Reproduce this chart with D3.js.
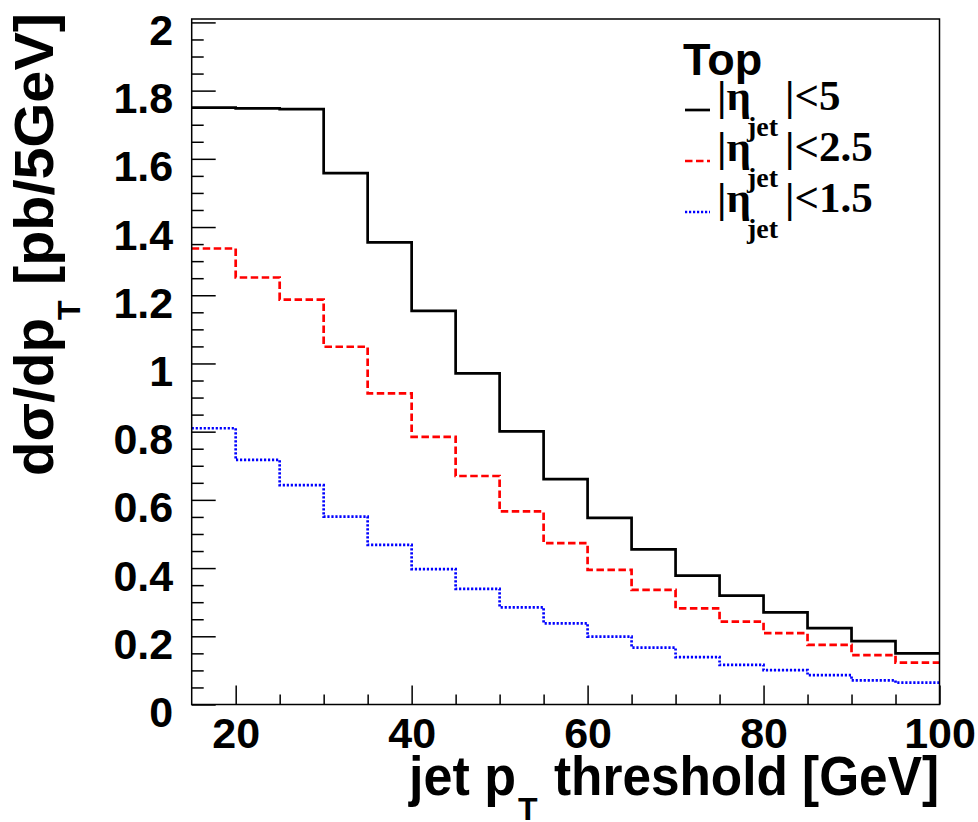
<!DOCTYPE html>
<html>
<head>
<meta charset="utf-8">
<script src="https://cdn.jsdelivr.net/npm/d3@7"></script>
<style>
  html, body { margin: 0; padding: 0; background: #fff; }
  svg { display: block; }
</style>
</head>
<body>
<script>
// ---- data ----
const binLowEdges = [15, 20, 25, 30, 35, 40, 45, 50, 55, 60, 65, 70, 75, 80, 85, 90, 95];
const binHighEdge = 100;
const etaLt5   = [1.750, 1.748, 1.746, 1.558, 1.355, 1.154, 0.971, 0.801, 0.661, 0.547, 0.455, 0.378, 0.319, 0.270, 0.224, 0.186, 0.150];
const etaLt2p5 = [1.337, 1.252, 1.187, 1.049, 0.912, 0.785, 0.670, 0.566, 0.473, 0.395, 0.336, 0.282, 0.243, 0.209, 0.175, 0.145, 0.123];
const etaLt1p5 = [0.810, 0.717, 0.643, 0.551, 0.468, 0.397, 0.339, 0.285, 0.238, 0.199, 0.167, 0.139, 0.116, 0.101, 0.086, 0.071, 0.064];
const xMajorTicks = [20, 40, 60, 80, 100];
const xMinorTicks = [25, 30, 35, 45, 50, 55, 65, 70, 75, 85, 90, 95];
const yMajorTicks = [0, 0.2, 0.4, 0.6, 0.8, 1, 1.2, 1.4, 1.6, 1.8, 2];
const yMinorTicks = d3.range(1, 40).map(i => +(i * 0.05).toFixed(2)).filter(v => Math.abs(v * 5 - Math.round(v * 5)) > 1e-6);
const legendTitle = "Top";
const legendLabels = ["<5", "<2.5", "<1.5"];

const W = 978, H = 822;
const svg = d3.select("body").append("svg").attr("width", W).attr("height", H);

const x = d3.scaleLinear().domain([15, 100]).range([191.7, 939.5]);
const y = d3.scaleLinear().domain([0, 2.01]).range([704.5, 19]);

const sans = "'Liberation Sans', Arial, Helvetica, sans-serif";
const serif = "'Liberation Serif', 'Times New Roman', serif";

// ---- histograms ----
const series = [
  { vals: etaLt5,   color: "#000000", dash: null },
  { vals: etaLt2p5, color: "#ff0000", dash: "7.5,3.5" },
  { vals: etaLt1p5, color: "#0000ff", dash: "2.2,1.8" }
];
const line = d3.line().x(d => x(d[0])).y(d => y(d[1])).curve(d3.curveStepAfter);
series.forEach(s => {
  const pts = binLowEdges.map((e, i) => [e, s.vals[i]]);
  pts.push([binHighEdge, s.vals[s.vals.length - 1]]);
  svg.append("path").attr("d", line(pts))
    .attr("fill", "none").attr("stroke", s.color).attr("stroke-width", 2.7)
    .attr("stroke-dasharray", s.dash);
});

// ---- axes ----
const frameColor = "#000";
const gx = svg.append("g").attr("transform", `translate(0,${y(0)})`);
gx.call(d3.axisBottom(x).tickValues(xMajorTicks).tickSizeInner(-19).tickSizeOuter(0).tickFormat(d3.format("d")));
gx.select(".domain").remove();
gx.selectAll(".tick line").attr("stroke", frameColor).attr("stroke-width", 1.5);
gx.selectAll(".tick text").attr("y", 43.5).attr("dy", null)
  .attr("font-family", sans).attr("font-weight", "bold").attr("font-size", 43).attr("fill", "#000");
const gxm = svg.append("g").attr("transform", `translate(0,${y(0)})`);
gxm.call(d3.axisBottom(x).tickValues(xMinorTicks).tickSizeInner(-10).tickSizeOuter(0).tickFormat(""));
gxm.select(".domain").remove();
gxm.selectAll(".tick line").attr("stroke", frameColor).attr("stroke-width", 1.5);

const gy = svg.append("g").attr("transform", `translate(${x(15)},0)`);
gy.call(d3.axisLeft(y).tickValues(yMajorTicks).tickSizeInner(-24).tickSizeOuter(0).tickFormat(d => d3.format("")(d)));
gy.select(".domain").remove();
gy.selectAll(".tick line").attr("stroke", frameColor).attr("stroke-width", 1.5);
gy.selectAll(".tick text").attr("x", -18.5).attr("y", 22).attr("dy", null)
  .attr("font-family", sans).attr("font-weight", "bold").attr("font-size", 43).attr("fill", "#000");
const gym = svg.append("g").attr("transform", `translate(${x(15)},0)`);
gym.call(d3.axisLeft(y).tickValues(yMinorTicks).tickSizeInner(-12).tickSizeOuter(0).tickFormat(""));
gym.select(".domain").remove();
gym.selectAll(".tick line").attr("stroke", frameColor).attr("stroke-width", 1.5);

// frame
svg.append("rect").attr("x", x(15)).attr("y", y(2.01))
  .attr("width", x(100) - x(15)).attr("height", y(0) - y(2.01))
  .attr("fill", "none").attr("stroke", frameColor).attr("stroke-width", 1.5);

// ---- axis titles ----
const tfs = 55;
svg.append("text").attr("x", 409).attr("y", 795)
  .attr("font-family", sans).attr("font-weight", "bold").attr("font-size", tfs)
  .attr("textLength", 107).attr("lengthAdjust", "spacingAndGlyphs").text("jet p");
svg.append("text").attr("x", 518).attr("y", 820)
  .attr("font-family", sans).attr("font-weight", "bold").attr("font-size", 32).text("T");
svg.append("text").attr("x", 554).attr("y", 795)
  .attr("font-family", sans).attr("font-weight", "bold").attr("font-size", tfs)
  .attr("textLength", 385).attr("lengthAdjust", "spacingAndGlyphs").text("threshold [GeV]");

svg.append("text").attr("transform", "translate(53,476) rotate(-90)")
  .attr("font-family", sans).attr("font-weight", "bold").attr("font-size", tfs)
  .attr("textLength", 158).attr("lengthAdjust", "spacingAndGlyphs").text("dσ/dp");
svg.append("text").attr("transform", "translate(80,320) rotate(-90)")
  .attr("font-family", sans).attr("font-weight", "bold").attr("font-size", 32).text("T");
svg.append("text").attr("transform", "translate(53,285) rotate(-90)")
  .attr("font-family", sans).attr("font-weight", "bold").attr("font-size", tfs)
  .attr("textLength", 272).attr("lengthAdjust", "spacingAndGlyphs").text("[pb/5GeV]");

// ---- legend ----
svg.append("text").attr("x", 683).attr("y", 75)
  .attr("font-family", sans).attr("font-weight", "bold").attr("font-size", 45).text(legendTitle);
const legBase = [110, 161, 212];
series.forEach((s, i) => {
  const by = legBase[i];
  svg.append("line").attr("x1", 685).attr("x2", 710).attr("y1", by).attr("y2", by)
    .attr("stroke", s.color).attr("stroke-width", 2.7).attr("stroke-dasharray", s.dash);
  svg.append("text").attr("x", 717).attr("y", by)
    .attr("font-family", serif).attr("font-weight", "bold").attr("font-size", 43).text("|η");
  svg.append("text").attr("x", 747).attr("y", by + 26)
    .attr("font-family", serif).attr("font-weight", "bold").attr("font-size", 28).text("jet");
  svg.append("text").attr("x", 785).attr("y", by)
    .attr("font-family", serif).attr("font-weight", "bold").attr("font-size", 43).text("|" + legendLabels[i]);
});
</script>
</body>
</html>
